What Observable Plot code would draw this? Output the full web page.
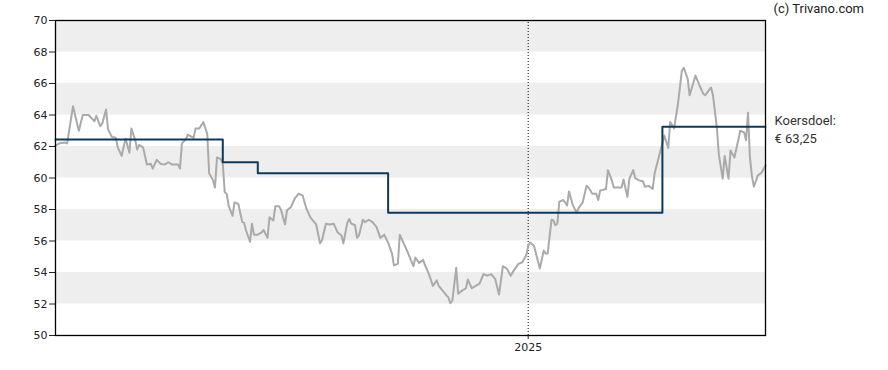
<!DOCTYPE html>
<html><head><meta charset="utf-8">
<script src="https://cdn.jsdelivr.net/npm/d3@7"></script>
<script src="https://cdn.jsdelivr.net/npm/@observablehq/plot@0.6"></script>
<style>body{margin:0;background:#fff}</style>
</head><body><div id="chart"></div>
<script>
const priceDates = ["2024-05-03","2024-05-05","2024-05-08","2024-05-09","2024-05-10","2024-05-12","2024-05-15","2024-05-17","2024-05-20","2024-05-23","2024-05-24","2024-05-26","2024-05-27","2024-05-29","2024-05-30","2024-06-01","2024-06-03","2024-06-04","2024-06-06","2024-06-08","2024-06-10","2024-06-11","2024-06-13","2024-06-14","2024-06-15","2024-06-17","2024-06-19","2024-06-21","2024-06-22","2024-06-24","2024-06-26","2024-06-28","2024-06-30","2024-07-02","2024-07-05","2024-07-06","2024-07-07","2024-07-09","2024-07-10","2024-07-13","2024-07-14","2024-07-16","2024-07-18","2024-07-20","2024-07-21","2024-07-23","2024-07-24","2024-07-25","2024-07-27","2024-07-28","2024-07-29","2024-07-30","2024-07-31","2024-08-02","2024-08-03","2024-08-05","2024-08-07","2024-08-08","2024-08-09","2024-08-11","2024-08-12","2024-08-13","2024-08-15","2024-08-17","2024-08-18","2024-08-20","2024-08-21","2024-08-23","2024-08-24","2024-08-26","2024-08-27","2024-08-29","2024-08-30","2024-09-01","2024-09-03","2024-09-05","2024-09-07","2024-09-09","2024-09-11","2024-09-14","2024-09-16","2024-09-17","2024-09-19","2024-09-21","2024-09-23","2024-09-25","2024-09-27","2024-09-28","2024-09-30","2024-10-01","2024-10-02","2024-10-04","2024-10-05","2024-10-06","2024-10-08","2024-10-09","2024-10-11","2024-10-13","2024-10-15","2024-10-17","2024-10-19","2024-10-21","2024-10-23","2024-10-24","2024-10-26","2024-10-27","2024-10-29","2024-10-31","2024-11-03","2024-11-04","2024-11-06","2024-11-08","2024-11-09","2024-11-11","2024-11-13","2024-11-15","2024-11-16","2024-11-18","2024-11-21","2024-11-22","2024-11-23","2024-11-25","2024-11-26","2024-11-28","2024-11-30","2024-12-01","2024-12-03","2024-12-05","2024-12-07","2024-12-09","2024-12-11","2024-12-13","2024-12-15","2024-12-17","2024-12-19","2024-12-21","2024-12-23","2024-12-25","2024-12-27","2024-12-29","2024-12-31","2025-01-01","2025-01-02","2025-01-04","2025-01-05","2025-01-07","2025-01-09","2025-01-10","2025-01-11","2025-01-13","2025-01-14","2025-01-15","2025-01-16","2025-01-17","2025-01-19","2025-01-20","2025-01-21","2025-01-22","2025-01-23","2025-01-24","2025-01-26","2025-01-27","2025-01-29","2025-01-31","2025-02-01","2025-02-03","2025-02-05","2025-02-06","2025-02-07","2025-02-10","2025-02-11","2025-02-13","2025-02-14","2025-02-16","2025-02-18","2025-02-19","2025-02-21","2025-02-22","2025-02-24","2025-02-25","2025-02-27","2025-03-01","2025-03-02","2025-03-04","2025-03-06","2025-03-07","2025-03-09","2025-03-12","2025-03-14","2025-03-15","2025-03-17","2025-03-19","2025-03-21","2025-03-22","2025-03-24","2025-03-25","2025-03-28","2025-03-30","2025-04-01","2025-04-02","2025-04-05","2025-04-06","2025-04-08","2025-04-09","2025-04-11","2025-04-12","2025-04-14","2025-04-15","2025-04-17","2025-04-19","2025-04-20","2025-04-22","2025-04-23","2025-04-24","2025-04-25","2025-04-26","2025-04-27","2025-04-29","2025-05-01","2025-05-03"];
const priceValues = [62.06,62.2,62.25,62.2,63.0,64.55,63.0,64.0,64.0,63.6,63.95,63.3,63.45,64.35,63.1,62.6,62.55,61.95,61.4,62.5,61.6,63.15,62.4,61.8,62.1,61.95,60.85,60.9,60.6,61.15,60.9,60.85,61.0,60.85,60.85,60.6,62.2,62.45,62.75,62.55,63.15,63.15,63.55,62.8,60.3,59.85,59.4,61.3,61.2,60.9,59.1,59.0,58.25,57.6,58.45,58.35,57.2,57.15,56.65,55.95,57.1,56.4,56.4,56.55,56.7,56.2,57.5,57.3,58.2,58.2,57.95,57.05,57.95,58.15,58.7,59.0,58.9,58.05,57.5,57.05,55.85,56.05,57.1,57.05,57.1,56.55,56.35,55.85,57.15,57.4,57.1,57.0,56.2,56.35,57.35,57.2,57.35,57.2,56.9,56.2,56.4,55.9,55.2,54.45,54.55,56.4,55.85,55.3,54.4,54.95,54.6,54.8,54.45,53.9,53.15,53.5,53.15,52.85,52.4,52.05,52.2,54.3,52.65,52.85,53.0,53.55,53.0,53.15,53.3,53.9,53.8,53.9,53.6,52.6,54.4,54.25,53.8,54.2,54.55,54.65,55.1,55.7,55.9,55.7,55.2,54.25,55.4,55.2,55.2,57.35,57.3,57.0,57.1,58.5,58.6,58.45,58.25,59.15,58.7,58.25,57.8,58.1,58.45,59.5,59.4,59.0,59.0,58.6,59.2,59.3,60.5,59.85,59.4,59.4,59.4,59.9,58.8,59.95,60.5,60.0,59.85,59.8,59.45,59.5,59.3,60.3,61.25,62.7,61.9,63.55,63.15,64.7,66.8,67.0,66.3,65.25,66.5,65.9,65.35,65.25,65.75,65.25,63.2,61.5,59.95,61.4,59.95,61.75,61.3,62.4,63.0,62.9,62.4,64.15,61.3,60.15,59.45,60.15,60.35,60.8];

const targetDates = ["2024-05-03","2024-07-28","2024-08-15","2024-10-21","2025-03-11","2025-05-03"];
const targetValues = [62.45,61.0,60.3,57.8,63.25,63.25];

const yTicks = [50,52,54,56,58,60,62,64,66,68,70];
const bandStarts = [52,56,60,64,68];
const xTickDates = ["2025-01-01"];
const xTickLabels = ["2025"];
const domainDates = ["2024-05-03","2025-05-03"];

const price = priceDates.map((d,i)=>({date:new Date(d), value:priceValues[i]}));
const target = targetDates.map((d,i)=>({date:new Date(d), value:targetValues[i]}));
const x0 = new Date(domainDates[0]), x1 = new Date(domainDates[1]);
const tick2025 = xTickDates.map(d=>new Date(d));
const lastTarget = targetValues[targetValues.length-1];
const targetLabel = "Koersdoel:\n€ " + d3.format(".2f")(lastTarget).replace(".", ",");

const chart = Plot.plot({
  width: 888, height: 370,
  marginLeft: 55, marginRight: 123, marginTop: 20, marginBottom: 35,
  style: {fontFamily: "DejaVu Sans", fontSize: "11px", color: "#222", background: "#fff", overflow: "visible"},
  x: {type: "utc", domain: [x0, x1]},
  y: {domain: [50, 70]},
  marks: [
    Plot.rect(bandStarts, {x1: x0, x2: x1, y1: d=>d, y2: d=>d+2, fill: "#eeeeee"}),
    Plot.ruleX(tick2025, {y1: 50, y2: 70, stroke: "#000", strokeDasharray: "1,2", strokeWidth: 1}),
    Plot.line(price, {x: "date", y: "value", stroke: "#aaaaaa", strokeWidth: 2}),
    Plot.line(target, {x: "date", y: "value", curve: "step-after", stroke: "#0e3a5a", strokeWidth: 2}),
    Plot.frame({stroke: "#000", strokeWidth: 1.3}),
    Plot.axisY({ticks: yTicks, tickSize: 6, tickPadding: 2, label: null, fill: "#222"}),
    Plot.axisX({ticks: tick2025, tickFormat: (d,i)=>xTickLabels[i], tickSize: 4, tickPadding: 4, label: null, fill: "#222"}),
    Plot.text([targetLabel], {x: x1, y: lastTarget, text: d=>d, dx: 9, dy: 1, textAnchor: "start", lineAnchor: "middle", lineHeight: 1.385, fontFamily: "Roboto", fontSize: 13, fill: "#333"}),
    Plot.text(["(c) Trivano.com"], {x: x1, y: 70, text: d=>d, dx: 8, dy: -12, textAnchor: "start", fontFamily: "Roboto", fontSize: 13, fill: "#222"})
  ]
});
document.getElementById("chart").appendChild(chart);
</script>
</body></html>
